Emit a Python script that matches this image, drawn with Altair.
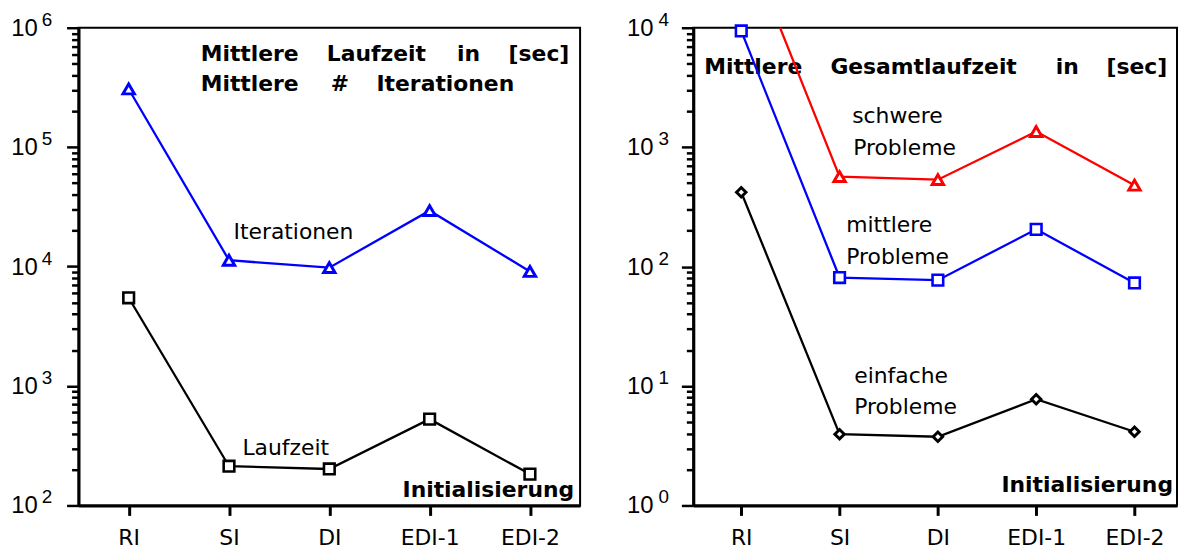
import altair as alt
import pandas as pd

# ---------------- data ----------------
cats = ["RI", "SI", "DI", "EDI-1", "EDI-2"]

# left panel
iterationen = [307000, 11300, 9800, 29400, 9100]
laufzeit = [5480, 213, 202, 528, 183]

# right panel
schwer = [65000, 566, 534, 1352, 480]
mittel = [9400, 81, 77, 205, 73]
einfach = [419, 3.95, 3.76, 7.75, 4.14]

left_decades = [100, 1000, 10000, 100000, 1000000]
left_exps = ["2", "3", "4", "5", "6"]
right_decades = [1, 10, 100, 1000, 10000]
right_exps = ["0", "1", "2", "3", "4"]
mults = [1, 2, 3, 4, 5, 6, 7, 8, 9]

FONT = "DejaVu Sans"
NUM_FONT = "Liberation Sans"
BOLD_FONT = "DejaVu Sans"


def tick_values(decades):
    return [m * d for d in decades[:-1] for m in mults] + [decades[-1]]


def make_x(width_pad, align):
    return alt.X(
        "cat:N",
        sort=cats,
        scale=alt.Scale(type="point", padding=width_pad, align=align),
        axis=alt.Axis(
            title=None, labelAngle=0, labelFont=FONT, labelFontSize=22,
            labelColor="black", labelPadding=12, tickSize=10, tickWidth=3,
            tickColor="black", domainWidth=3, domainColor="black",
        ),
    )


def make_y(decades):
    return alt.Y(
        "v:Q",
        scale=alt.Scale(type="log", domain=[decades[0], decades[-1]], nice=False),
        axis=alt.Axis(
            title=None, labels=False, grid=False, values=tick_values(decades),
            tickSize={"condition": {"test": "abs(log(datum.value)/LN10 - round(log(datum.value)/LN10)) < 0.000001", "value": 12}, "value": 7},
            tickWidth=2.5, tickColor="black", domainWidth=3, domainColor="black",
        ),
    )


def series(values, name):
    return pd.DataFrame({"cat": cats, "v": values, "s": name})


def label(txt, x, y, size=22, bold=False, align="left"):
    return alt.Chart(alt.Data(values=[{}])).mark_text(
        text=txt, align=align, baseline="alphabetic",
        font=BOLD_FONT if bold else FONT, fontSize=size,
        fontWeight="bold" if bold else "normal", color="black",
    ).encode(x=alt.value(x), y=alt.value(y))


def line_layers(df, color, shape, size, X, Y, sw=2.6, clip=False):
    ln = alt.Chart(df).mark_line(color=color, strokeWidth=2.3, clip=clip).encode(x=X, y=Y)
    pt = alt.Chart(df).mark_point(
        shape=shape, size=size, filled=True, fill="white", stroke=color,
        strokeWidth=sw, opacity=1, clip=clip,
    ).encode(x=X, y=Y)
    return [ln, pt]


def y_labels(decades, exps, Y, x10, xexp):
    d = pd.DataFrame({"v": decades, "e": exps})
    ten = alt.Chart(d).mark_text(
        text="10", align="right", baseline="middle", font=NUM_FONT, fontSize=24,
        color="black", dy=1,
    ).encode(x=alt.value(x10), y=Y)
    ex = alt.Chart(d).mark_text(
        align="left", baseline="middle", font=NUM_FONT, fontSize=19,
        color="black", dy=-8,
    ).encode(x=alt.value(xexp), y=Y, text="e:N")
    return [ten, ex]


# ---------------- left panel ----------------
XL = make_x(0.5, 0.5)
YL = make_y(left_decades)
left_layers = [
    label("Mittlere", 123, 34, 22, True),
    label("Laufzeit", 250, 34, 22, True),
    label("in", 381, 34, 22, True),
    label("[sec]", 433, 34, 22, True),
    label("Mittlere", 123, 64, 22, True),
    label("#", 254, 64, 22, True),
    label("Iterationen", 300, 64, 22, True),
    label("Initialisierung", 499, 472, 22, True, "right"),
    label("Iterationen", 156, 213),
    label("Laufzeit", 165, 430),
]
left_layers += line_layers(series(iterationen, "Iterationen"), "#0000ff", "triangle-up", 130, XL, YL, sw=3)
left_layers += line_layers(series(laufzeit, "Laufzeit"), "black", "square", 115, XL, YL)
left_layers += y_labels(left_decades, left_exps, YL, -41, -37)
left = alt.layer(*left_layers).properties(width=505, height=481)

# ---------------- right panel ----------------
XR = make_x(0.46, 0.53)
YR = make_y(right_decades)
right_layers = [
    label("Mittlere", 11, 47, 22, True),
    label("Gesamtlaufzeit", 138, 47, 22, True),
    label("in", 365, 47, 22, True),
    label("[sec]", 416, 47, 22, True),
    label("Initialisierung", 483, 467, 22, True, "right"),
    label("schwere", 160, 96),
    label("Probleme", 161, 128),
    label("mittlere", 154, 206),
    label("Probleme", 154, 238),
    label("einfache", 162, 358),
    label("Probleme", 162, 389),
]
right_layers += line_layers(series(schwer, "schwer"), "#ff0000", "triangle-up", 130, XR, YR, sw=3, clip=True)
right_layers += line_layers(series(mittel, "mittel"), "#0000ff", "square", 115, XR, YR)
right_layers += line_layers(series(einfach, "einfach"), "black", "diamond", 90, XR, YR, sw=3)
right_layers += y_labels(right_decades, right_exps, YR, -40, -35)
right = alt.layer(*right_layers).properties(width=487, height=481)

chart = (
    alt.hconcat(left, right, spacing=45)
    .properties(padding={"left": 2, "top": 0, "right": 0, "bottom": 0})
    .configure_view(stroke="black", strokeWidth=2)
)

chart.save("out.html", embed_options={"renderer": "svg", "actions": False})
